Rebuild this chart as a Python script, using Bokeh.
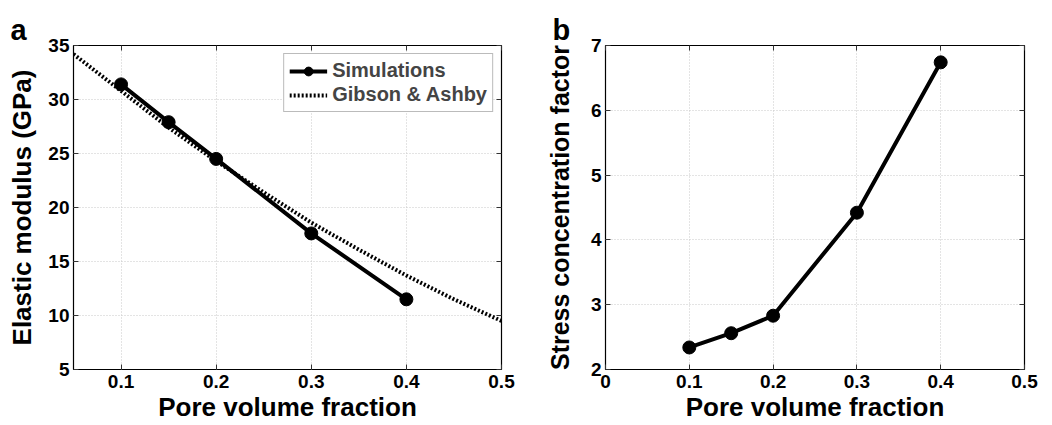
from bokeh.plotting import figure
from bokeh.layouts import row
from bokeh.models import (FixedTicker, LinearAxis, Legend, LegendItem, CustomJSTickFormatter, Range1d)
from bokeh.embed import file_html
from bokeh.resources import INLINE

# ---- data ----
sim_x = [0.10, 0.15, 0.20, 0.30, 0.40]
sim_modulus = [31.4, 27.9, 24.5, 17.6, 11.5]
ga_x = [0.05, 0.10, 0.15, 0.20, 0.25, 0.30, 0.35, 0.40, 0.45, 0.50]
ga_modulus = [34.2, 30.8, 27.4, 24.3, 21.4, 18.6, 16.1, 13.7, 11.5, 9.5]
scf_x = [0.10, 0.15, 0.20, 0.30, 0.40]
scf_values = [2.34, 2.56, 2.83, 4.42, 6.74]

a_xticks = [0.1, 0.2, 0.3, 0.4, 0.5]
a_yticks = [5, 10, 15, 20, 25, 30, 35]
b_xticks = [0, 0.1, 0.2, 0.3, 0.4, 0.5]
b_yticks = [2, 3, 4, 5, 6, 7]

FONT = "Liberation Sans"
TICK_FS = "19px"
LABEL_FS = "26px"

fmt = CustomJSTickFormatter(code="return tick == 0 ? '0' : (Number.isInteger(tick) ? tick.toString() : tick.toFixed(1));")
blank = CustomJSTickFormatter(code="return '';")


def style(p, xticks, yticks, xlabel, ylabel, letter, letter_offset, ylabel_standoff, ylabel_fs):
    p.outline_line_color = "black"
    p.outline_line_width = 1.2
    p.background_fill_color = "white"
    p.border_fill_color = "white"
    p.title.text = letter
    p.title.text_font = FONT
    p.title.text_font_size = "29px"
    p.title.text_font_style = "bold"
    p.title.text_color = "black"
    p.title.align = "left"
    p.title.offset = letter_offset
    p.title.standoff = 0
    for ax in p.xaxis:
        ax.ticker = FixedTicker(ticks=xticks)
    for ax in p.yaxis:
        ax.ticker = FixedTicker(ticks=yticks)
    # additional tick-only axes (MATLAB-style box ticks)
    p.add_layout(LinearAxis(ticker=FixedTicker(ticks=xticks), formatter=blank), "above")
    p.add_layout(LinearAxis(ticker=FixedTicker(ticks=yticks), formatter=blank), "right")
    for ax in p.axis:
        ax.axis_line_color = None
        ax.major_tick_in = 5
        ax.major_tick_out = 0
        ax.minor_tick_line_color = None
        ax.major_tick_line_color = "#333333"
        ax.major_label_text_font = FONT
        ax.major_label_text_font_style = "bold"
        ax.major_label_text_font_size = TICK_FS
        ax.major_label_text_color = "black"
    p.above[-1].major_label_standoff = 19
    p.right[-1].major_label_standoff = 0
    xa = p.below[0]
    ya = p.left[0]
    xa.formatter = fmt
    ya.formatter = fmt
    xa.axis_label = xlabel
    ya.axis_label = ylabel
    for ax in (xa, ya):
        ax.axis_label_text_font = FONT
        ax.axis_label_text_font_style = "bold"
        ax.axis_label_text_font_size = LABEL_FS
        ax.axis_label_text_color = "black"
    ya.axis_label_text_font_size = ylabel_fs
    xa.axis_label_standoff = 1
    xa.major_label_standoff = 5
    ya.axis_label_standoff = ylabel_standoff
    ya.major_label_standoff = 4
    p.grid.grid_line_color = "#c8c8c8"
    p.grid.grid_line_dash = "1 2"
    p.grid.grid_line_width = 1
    p.xgrid.ticker = FixedTicker(ticks=xticks)
    p.ygrid.ticker = FixedTicker(ticks=yticks)


pa = figure(width=520, height=424, x_range=Range1d(0.05, 0.5), y_range=Range1d(5, 35),
            output_backend="svg", toolbar_location=None,
            min_border_left=73, min_border_right=19, min_border_top=45, min_border_bottom=54)
style(pa, a_xticks, a_yticks, "Pore volume fraction", "Elastic modulus (GPa)", "a", -63, 8, "26px")

r_ga = pa.line(ga_x, ga_modulus, line_color="black", line_width=4, line_dash="2 2")
r_sim_l = pa.line(sim_x, sim_modulus, line_color="black", line_width=4)
r_sim_s = pa.scatter(sim_x, sim_modulus, size=13, fill_color="black", line_color="black")

legend = Legend(items=[LegendItem(label="Simulations", renderers=[r_sim_l, r_sim_s]),
                       LegendItem(label="Gibson & Ashby", renderers=[r_ga])],
                location="top_right")
legend.label_text_font = FONT
legend.label_text_font_style = "bold"
legend.label_text_font_size = "20px"
legend.label_height = 22
legend.glyph_height = 22
legend.border_line_color = "#777777"
legend.border_line_width = 1
legend.margin = 8
legend.padding = 5
legend.spacing = 1
legend.glyph_width = 38
legend.label_standoff = 5
legend.background_fill_alpha = 1
pa.add_layout(legend)

pb = figure(width=524, height=424, x_range=Range1d(0, 0.5), y_range=Range1d(2, 7),
            output_backend="svg", toolbar_location=None,
            min_border_left=85, min_border_right=20, min_border_top=45, min_border_bottom=54)
style(pb, b_xticks, b_yticks, "Pore volume fraction", "Stress concentration factor", "b", -53, 14, "25px")
pb.line(scf_x, scf_values, line_color="black", line_width=4)
pb.scatter(scf_x, scf_values, size=13, fill_color="black", line_color="black")

layout = row(pa, pb)
open("out.html", "w").write(file_html(layout, INLINE))
